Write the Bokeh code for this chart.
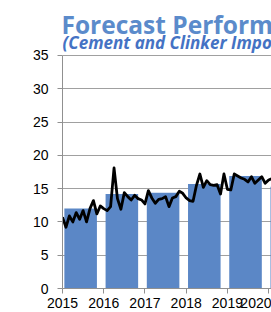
from bokeh.plotting import figure
from bokeh.models import Label, FixedTicker, Range1d, PrintfTickFormatter
from bokeh.embed import file_html
from bokeh.resources import INLINE

# Annual bars (actual imports, million tonnes)
years = [2015, 2016, 2017, 2018, 2019, 2020]
annual = [12.0, 14.2, 14.4, 15.7, 16.9, 15.3]

# Monthly series (annualised), starting Jan 2015
monthly = [10.7, 9.2, 10.9, 10.0, 11.4, 10.4, 11.7, 10.0, 12.0, 13.2, 11.2, 12.4,
           12.0, 11.7, 12.3, 18.1, 13.5, 11.9, 14.4, 13.8, 13.3, 14.0, 13.5, 13.3,
           12.7, 14.7, 13.6, 12.8, 13.4, 13.5, 13.8, 12.3, 13.6, 13.8, 14.6, 14.3,
           13.6, 13.2, 13.1, 15.5, 17.2, 15.2, 16.2, 15.6, 15.5, 15.6, 14.2, 17.2,
           14.9, 14.8, 17.2, 16.9, 16.6, 16.4, 16.0, 16.8, 15.8, 16.3, 16.8, 15.8,
           16.3, 16.5]
month_x = [2015 + i / 12 for i in range(len(monthly))]

y_ticks = [0, 5, 10, 15, 20, 25, 30, 35]
title_text = "Forecast Performance"
subtitle_text = "(Cement and Clinker Imports)"

# frame spans full height; headroom above 35 holds the titles
p = figure(width=271, height=312, output_backend="svg", toolbar_location=None,
           x_range=Range1d(2015, 2020.07), y_range=Range1d(0, 43.26),
           min_border_left=62, min_border_right=0, min_border_top=0, min_border_bottom=24)
p.outline_line_color = None
p.background_fill_color = "white"
p.border_fill_color = "white"

bar_x = [y + 0.44 for y in years]
p.vbar(x=bar_x, top=annual, width=0.79, bottom=0, fill_color="#5B87C6", line_color=None)
p.line(month_x, monthly, line_color="black", line_width=2.8, line_join="round")

p.xgrid.grid_line_color = None
p.ygrid.grid_line_color = "#A0A0A0"
p.ygrid.grid_line_width = 1
p.ygrid.ticker = FixedTicker(ticks=y_ticks)

p.yaxis.ticker = FixedTicker(ticks=y_ticks)
p.yaxis.bounds = (0, 35)
p.xaxis.ticker = FixedTicker(ticks=years)
p.xaxis.formatter = PrintfTickFormatter(format="%d")
for ax in (p.xaxis[0], p.yaxis[0]):
    ax.axis_line_color = "#909090"
    ax.major_tick_line_color = "#909090"
    ax.minor_tick_line_color = None
    ax.major_tick_in = 0
    ax.major_label_text_font = "Liberation Sans"
    ax.major_label_text_font_size = "14px"
    ax.major_label_text_color = "black"
p.yaxis.major_tick_out = 5
p.yaxis.major_label_standoff = 9
p.xaxis.major_tick_out = 5
p.xaxis.major_label_standoff = 4

p.add_layout(Label(x=-1, y=264, x_units="screen", y_units="screen", text=title_text,
                   text_font="Open Sans", text_font_style="bold", text_font_size="24.5px",
                   text_color="#5B8BCB", text_baseline="middle", text_align="left"))
p.add_layout(Label(x=0, y=246, x_units="screen", y_units="screen", text=subtitle_text,
                   text_font="Open Sans", text_font_style="bold italic", text_font_size="17px",
                   text_color="#4472C4", text_baseline="middle", text_align="left"))

open("out.html", "w").write(file_html(p, INLINE))
